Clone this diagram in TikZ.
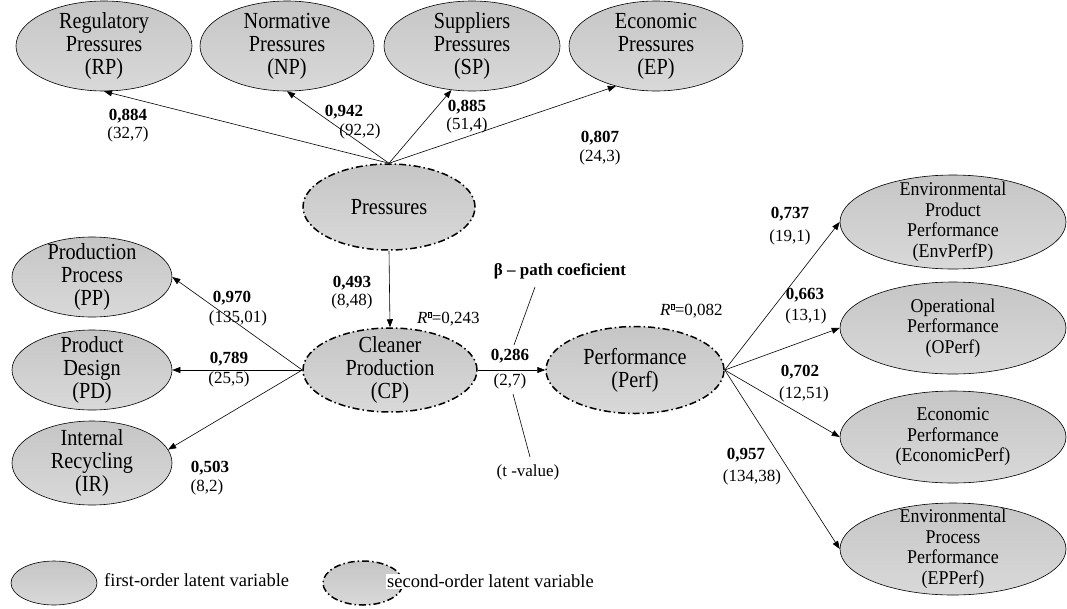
\documentclass[tikz,border=0pt]{standalone}
\usepackage{fontspec}
\setmainfont{Liberation Serif}
\newfontfamily\condf[FakeStretch=0.88]{Liberation Serif}
\newfontfamily\condg[FakeStretch=0.92]{Liberation Serif}
\usetikzlibrary{shapes.geometric,arrows.meta}
\newcommand\qbox{\raisebox{0.85ex}{\setlength\fboxsep{0.4pt}\setlength\fboxrule{0.4pt}\fbox{\fontsize{6}{6}\selectfont ?}}}
\tikzset{
  lvbase/.style={ellipse, draw, inner sep=0pt, top color=gray!45, bottom color=gray!30},
  fo/.style n args={2}{lvbase, line width=0.6pt, minimum width=#1, minimum height=#2},
  so/.style n args={2}{lvbase, line width=1.5pt, dash pattern=on 7pt off 3pt on 1.5pt off 3pt, minimum width=#1, minimum height=#2},
  bigt/.style={align=center, inner sep=0pt, font=\condf\fontsize{23}{23}\selectfont},
  smallt/.style={align=center, inner sep=0pt, font=\condg\fontsize{19.5}{20.5}\selectfont},
  val/.style={inner sep=0pt, font=\fontsize{17}{19}\selectfont\bfseries},
  tv/.style={inner sep=0pt, font=\fontsize{17}{19}\selectfont},
  legt/.style={anchor=west, inner sep=1pt, fill=white, font=\fontsize{18.5}{20}\selectfont},
  arr/.style={-{Triangle[length=8pt,width=6pt]}, line width=0.6pt},
  ln/.style={line width=0.6pt}
}
\begin{document}
\begin{tikzpicture}[x=1pt,y=-1pt]
\useasboundingbox (0,0) rectangle (1067,608);
% top first-order
\node[fo={176}{90}, label={[bigt]center:{Regulatory\\Pressures\\(RP)}}] (RP) at (104,46) {};
\node[fo={174}{90}, label={[bigt]center:{Normative\\Pressures\\(NP)}}] (NP) at (287,46) {};
\node[fo={176}{90}, label={[bigt]center:{Suppliers\\Pressures\\(SP)}}] (SP) at (472,46) {};
\node[fo={174}{90}, label={[bigt]center:{Economic\\Pressures\\(EP)}}] (EP) at (656,46) {};
% second-order
\node[so={172}{86}, label={[bigt]center:{Pressures}}] (PR) at (389,207) {};
\node[so={174}{84}, label={[bigt]center:{Cleaner\\Production\\(CP)}}] (CP) at (390,370) {};
\node[so={178}{87}, label={[bigt]center:{Performance\\(Perf)}}] (PF) at (635,370) {};
% left first-order
\node[fo={160}{80}, label={[bigt]center:{Production\\Process\\(PP)}}] (PP) at (92,277) {};
\node[fo={160}{80}, label={[bigt]center:{Product\\Design\\(PD)}}] (PD) at (92,370) {};
\node[fo={160}{84}, label={[bigt]center:{Internal\\Recycling\\(IR)}}] (IR) at (92,463) {};
% right first-order
\node[fo={226}{94}, label={[smallt]center:{Environmental\\Product\\Performance\\(EnvPerfP)}}] (EV) at (953,222) {};
\node[fo={226}{92}, label={[smallt]center:{Operational\\Performance\\(OPerf)}}] (OP) at (953,328) {};
\node[fo={226}{92}, label={[smallt]center:{Economic\\Performance\\(EconomicPerf)}}] (EC) at (953,437) {};
\node[fo={226}{92}, label={[smallt]center:{Environmental\\Process\\Performance\\(EPPerf)}}] (EPP) at (953,549) {};
% arrows from Pressures
\draw[arr] (PR.north) -- (RP.south);
\draw[arr] (PR.north) -- (NP.south);
\draw[arr] (PR.north) -- (SP.245);
\draw[arr] (PR.north) -- (EP.225);
\draw[arr] (PR.south) -- (CP.north);
% CP arrows
\draw[arr] (CP.west) -- (PP.east);
\draw[arr] (CP.west) -- (PD.east);
\draw[arr] (CP.west) -- (IR.10);
\draw[arr] (CP.east) -- (PF.west);
% Perf arrows
\draw[arr] (PF.east) -- (EV.west);
\draw[arr] (PF.east) -- (OP.west);
\draw[arr] (PF.east) -- (EC.west);
\draw[arr] (PF.east) -- (EPP.west);
% values
\node[val] (v1) at (128,116) {0,884}; \node[tv] (t1) at (128,134) {(32,7)};
\node[val] (v2) at (344,112) {0,942}; \node[tv] (t2) at (360,131) {(92,2)};
\node[val] (v3) at (467,107) {0,885}; \node[tv] (t3) at (467,125) {(51,4)};
\node[val] (v4) at (600,138) {0,807}; \node[tv] (t4) at (600,157) {(24,3)};
\node[val] (v5) at (352,283) {0,493}; \node[tv] (t5) at (352,301) {(8,48)};
\node[val] (v6) at (232,298) {0,970}; \node[tv] (t6) at (238,318) {(135,01)};
\node[val] (v7) at (229,359) {0,789}; \node[tv] (t7) at (229,379) {(25,5)};
\node[val] (v8) at (210,468) {0,503}; \node[tv] (t8) at (207,487) {(8,2)};
\node[val] (v9) at (510,356) {0,286}; \node[tv] (t9) at (510,381) {(2,7)};
\node[val] (v10) at (790,214) {0,737}; \node[tv] (t10) at (790,237) {(19,1)};
\node[val] (v11) at (805,295) {0,663}; \node[tv] (t11) at (806,316) {(13,1)};
\node[val] (v12) at (800,372) {0,702}; \node[tv] (t12) at (804,394) {(12,51)};
\node[val] (v13) at (746,455) {0,957}; \node[tv] (t13) at (752,477) {(134,38)};
% R squared
\node[tv, anchor=west] (r1) at (417,319) {\textit{R}\qbox=0,243};
\node[tv, anchor=west] (r2) at (660,311) {\textit{R}\qbox=0,082};
% beta and t-value annotations
\node[val] (beta) at (560,271) {β – path coeficient};
\node[tv] (tval) at (528,472) {(t -value)};
\coordinate (b1) at (535,287); \coordinate (b2) at (514,345);
\coordinate (c1) at (513,394); \coordinate (c2) at (530,457);
\draw[ln] (b1) -- (b2);
\draw[ln] (c1) -- (c2);
% legend
\node[fo={86}{44}] (L1) at (54,583) {};
\node[legt] (L1t) at (103,580) {first-order latent variable};
\node[so={80}{44}] (L2) at (363,583) {};
\node[legt] (L2t) at (386,581) {second-order latent variable};
\end{tikzpicture}
\end{document}
